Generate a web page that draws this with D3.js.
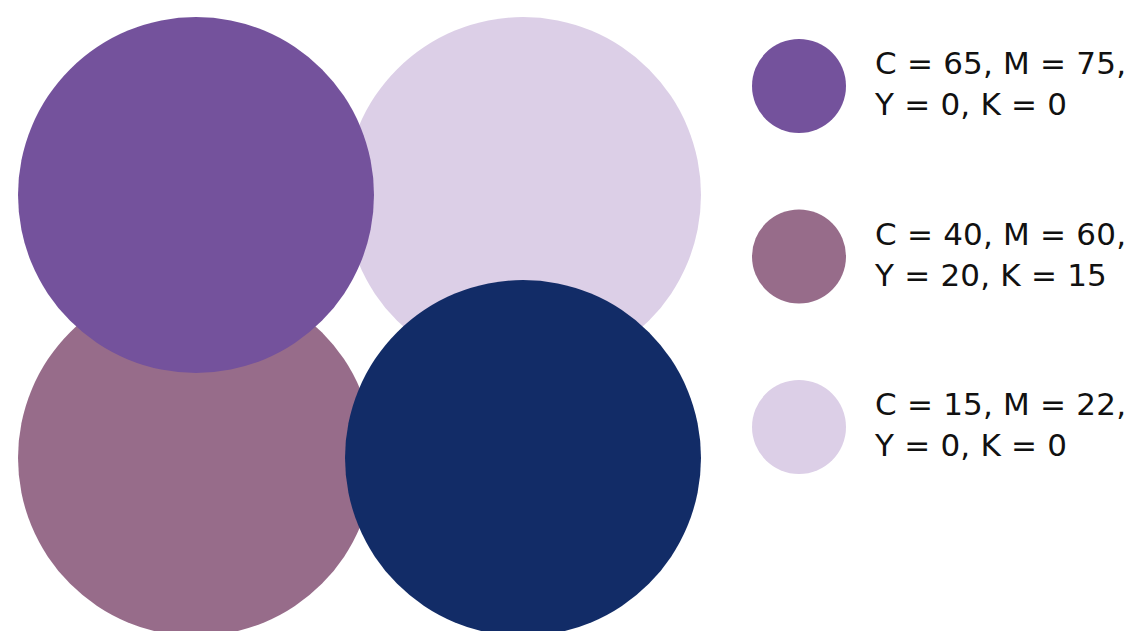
<!DOCTYPE html>
<html><head><meta charset="utf-8">
<script src="https://cdn.jsdelivr.net/npm/d3@7"></script>
<style>html,body{margin:0;padding:0;background:#fff;}svg{display:block;}</style>
</head><body>
<script>
// Swatch grid (drawing order: back to front)
const swatchNames = ["lavender", "mauve", "purple", "navy"];
const swatchCols = [1, 0, 0, 1];
const swatchRows = [0, 1, 0, 1];
const swatchColors = ["#dccfe7", "#976c8a", "#74529c", "#122c67"];
// Legend
const legendColors = ["#74529c", "#976c8a", "#dccfe7"];
const legendLine1 = ["C = 65, M = 75,", "C = 40, M = 60,", "C = 15, M = 22,"];
const legendLine2 = ["Y = 0, K = 0", "Y = 20, K = 15", "Y = 0, K = 0"];

const W = 1137, H = 631;
const svg = d3.select("body").append("svg").attr("width", W).attr("height", H);

const x = d3.scaleLinear().domain([0, 1]).range([196, 523]);
const y = d3.scaleLinear().domain([0, 1]).range([195, 458]);
const R = 178;

svg.append("g").selectAll("circle")
  .data(swatchNames.map((n, i) => ({n, c: swatchCols[i], r: swatchRows[i], col: swatchColors[i]})))
  .join("circle")
  .attr("cx", d => x(d.c)).attr("cy", d => y(d.r)).attr("r", R)
  .attr("fill", d => d.col);

const ly = d3.scaleLinear().domain([0, 2]).range([86, 427]);
const lg = svg.append("g").selectAll("g")
  .data(legendColors.map((c, i) => ({c, a: legendLine1[i], b: legendLine2[i], i})))
  .join("g").attr("transform", d => `translate(0,${ly(d.i)})`);
lg.append("circle").attr("cx", 799).attr("cy", 0).attr("r", 47).attr("fill", d => d.c);
const t = lg.append("text").attr("font-family", "'DejaVu Sans', sans-serif")
  .attr("font-size", 31).attr("letter-spacing", 0.2).attr("fill", "#111");
t.append("tspan").attr("x", 875).attr("y", -12).text(d => d.a);
t.append("tspan").attr("x", 875).attr("y", 29).text(d => d.b);
</script>
</body></html>
